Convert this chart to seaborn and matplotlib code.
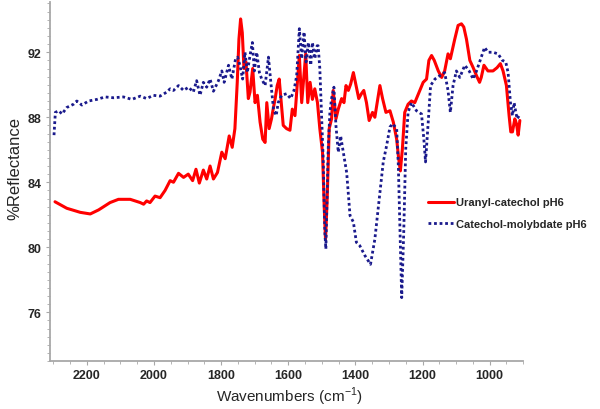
import numpy as np
import pandas as pd
import matplotlib
matplotlib.use("Agg")
import matplotlib.pyplot as plt
from matplotlib.ticker import MultipleLocator
import seaborn as sns

### spectra ###
red_wn = [2295, 2260, 2220, 2190, 2165, 2131, 2106, 2071, 2041, 2031, 2022, 2012, 1997, 1982,
          1967, 1952, 1942, 1927, 1912, 1898, 1885, 1875, 1865, 1853, 1843, 1833, 1823, 1811,
          1798, 1788, 1776, 1767, 1759, 1752, 1747, 1742, 1737, 1732, 1726, 1719, 1714, 1706,
          1699, 1692, 1684, 1676, 1669, 1664, 1657, 1650, 1645, 1639, 1633, 1627, 1622, 1615,
          1605, 1595, 1588, 1580, 1567, 1560, 1548, 1542, 1535, 1528, 1521, 1513, 1506, 1498,
          1493, 1489, 1484, 1478, 1471, 1466, 1458, 1451, 1441, 1434, 1428, 1421, 1414, 1406,
          1398, 1390, 1382, 1375, 1367, 1359, 1349, 1342, 1335, 1327, 1319, 1309, 1297, 1287,
          1277, 1271, 1266, 1260, 1253, 1243, 1233, 1223, 1210, 1198, 1188, 1181, 1173, 1165,
          1153, 1143, 1134, 1124, 1117, 1104, 1094, 1084, 1077, 1069, 1059, 1049, 1039, 1030,
          1025, 1017, 1005, 990, 978, 968, 960, 950, 942, 937, 932, 925, 920, 915, 910]
red_pct = [82.8, 82.4, 82.15, 82.05, 82.3, 82.75, 82.95, 82.95, 82.75, 82.65, 82.85, 82.75, 83.15, 83.05,
           83.5, 84.1, 84.0, 84.55, 84.3, 84.5, 84.1, 84.8, 83.95, 84.75, 84.2, 85.0, 84.2, 84.6,
           85.85, 85.45, 86.85, 86.15, 87.3, 90.15, 92.8, 94.05, 93.2, 91.0, 91.4, 89.15, 89.55, 91.0,
           88.9, 89.35, 87.7, 86.65, 86.45, 88.9, 87.3, 87.9, 88.5, 89.15, 89.95, 90.35, 89.15, 87.5,
           87.3, 87.2, 88.5, 88.1, 91.8, 88.9, 91.9, 88.9, 90.15, 89.1, 89.75, 88.9, 87.3, 85.85,
           82.55, 80.5, 83.0, 87.3, 87.9, 89.65, 87.9, 88.5, 89.15, 88.9, 89.95, 89.65, 90.05, 90.75,
           89.95, 89.15, 89.45, 89.65, 88.9, 87.8, 88.3, 88.0, 88.9, 89.95, 89.15, 88.3, 88.4, 87.7,
           86.65, 85.45, 84.7, 86.05, 88.3, 88.8, 89.0, 88.9, 89.55, 90.15, 90.35, 91.5, 91.8, 91.5,
           90.85, 90.45, 90.85, 91.9, 91.6, 92.8, 93.65, 93.75, 93.55, 92.8, 91.5, 91.05, 90.55, 90.15,
           90.45, 91.2, 90.85, 90.85, 91.05, 91.3, 90.85, 89.95, 88.1, 87.1, 87.1, 87.9, 87.6, 86.9, 87.8]

blue_wn = [2298, 2294, 2284, 2274, 2260, 2240, 2230, 2215, 2195, 2170, 2146, 2121, 2091, 2066,
           2041, 2022, 2002, 1982, 1962, 1952, 1942, 1927, 1912, 1897, 1883, 1873, 1863, 1853,
           1843, 1833, 1823, 1808, 1798, 1791, 1778, 1768, 1757, 1751, 1744, 1736, 1729, 1722,
           1714, 1707, 1701, 1694, 1686, 1679, 1669, 1659, 1652, 1644, 1636, 1630, 1620, 1605,
           1593, 1583, 1575, 1567, 1560, 1553, 1547, 1540, 1533, 1528, 1521, 1514, 1511, 1506,
           1501, 1496, 1491, 1488, 1481, 1476, 1471, 1464, 1458, 1451, 1444, 1436, 1426, 1416,
           1406, 1397, 1387, 1372, 1355, 1342, 1329, 1317, 1307, 1297, 1289, 1277, 1272, 1267,
           1262, 1256, 1250, 1243, 1233, 1218, 1203, 1196, 1191, 1183, 1176, 1163, 1149, 1134,
           1124, 1117, 1109, 1099, 1089, 1074, 1061, 1049, 1039, 1025, 1015, 1005, 990, 975,
           962, 952, 945, 938, 932, 927, 922, 918, 912]
blue_pct = [86.9, 88.3, 88.4, 88.2, 88.6, 88.8, 89.0, 88.75, 89.0, 89.1, 89.25, 89.2, 89.25, 89.1,
            89.3, 89.15, 89.35, 89.3, 89.55, 89.75, 89.65, 89.95, 89.65, 89.85, 89.55, 90.25, 89.35, 90.15,
            89.85, 90.35, 89.6, 90.25, 90.85, 90.15, 91.2, 90.35, 91.6, 91.7, 91.2, 90.35, 92.0, 90.75,
            91.8, 92.6, 90.85, 92.0, 90.75, 90.35, 89.95, 91.7, 90.15, 88.5, 88.1, 88.9, 89.35, 89.45,
            89.15, 89.65, 90.55, 93.45, 91.6, 93.25, 91.4, 92.6, 91.2, 92.6, 91.6, 92.4, 92.4, 91.0,
            88.3, 85.45, 80.9, 79.9, 86.05, 88.3, 89.15, 89.85, 87.5, 85.85, 86.85, 85.85, 84.6, 81.95,
            81.55, 80.3, 80.1, 79.5, 78.95, 80.5, 82.95, 85.25, 86.25, 87.4, 87.6, 87.3, 85.0, 80.9,
            76.9, 80.9, 86.05, 88.3, 88.9, 88.4, 88.2, 86.65, 85.25, 87.7, 89.95, 90.35, 90.55, 90.75,
            89.65, 88.3, 89.95, 90.85, 90.45, 91.2, 90.85, 90.35, 90.85, 91.7, 92.3, 92.0, 92.0, 91.9,
            91.5, 91.4, 90.75, 88.9, 88.1, 88.9, 88.3, 87.9, 88.1]

red_df = pd.DataFrame({'wn': red_wn, 'pct': red_pct})
blue_df = pd.DataFrame({'wn': blue_wn, 'pct': blue_pct})

sns.set_style('white')
plt.rcParams['font.family'] = ['Liberation Sans', 'DejaVu Sans']

fig = plt.figure(figsize=(6, 4.1), dpi=100)
ax = fig.add_axes([0.0833, 0.117, 0.7887, 0.876])

sns.lineplot(data=red_df, x='wn', y='pct', ax=ax, color='#ff0000', linewidth=2.2,
             label='Uranyl-catechol pH6', sort=False)
sns.lineplot(data=blue_df, x='wn', y='pct', ax=ax, color='#1a1a8c', linewidth=2.0,
             linestyle=(0, (1, 1)), label='Catechol-molybdate pH6', sort=False)

ax.set_xlim(2310, 900)
ax.set_ylim(73, 95.1)
ax.xaxis.set_major_locator(MultipleLocator(200))
ax.xaxis.set_minor_locator(MultipleLocator(50))
ax.yaxis.set_major_locator(MultipleLocator(4))
ax.yaxis.set_minor_locator(MultipleLocator(0.5))

for s in ['top', 'right']:
    ax.spines[s].set_visible(False)
for s in ['left', 'bottom']:
    ax.spines[s].set_color('#a8a8a8')
    ax.spines[s].set_linewidth(1.3)

ax.tick_params(axis='both', which='both', direction='out', color='#a8a8a8', bottom=True, left=True)
ax.tick_params(axis='both', which='major', length=3, labelsize=9, pad=3)
ax.tick_params(axis='both', which='minor', length=2)
for lab in ax.get_xticklabels() + ax.get_yticklabels():
    lab.set_fontweight('bold')

ax.set_xlabel(r'Wavenumbers (cm$^{\mathregular{-1}}$)', fontsize=11)
ax.set_ylabel('%Reflectance', fontsize=12)
ax.xaxis.set_label_coords(0.507, -0.098, transform=ax.transAxes)
ax.xaxis.label.set_verticalalignment('center')
ax.yaxis.set_label_coords(-0.074, 0.538, transform=ax.transAxes)
ax.yaxis.label.set_verticalalignment('center')

ax.legend(loc='center left', bbox_to_anchor=(0.713, 0.478), bbox_transform=fig.transFigure,
          frameon=False, prop={'weight': 'bold', 'size': 8}, handlelength=2.4,
          handletextpad=0.15, labelspacing=1.0, borderpad=0, borderaxespad=0)

plt.savefig('out.png', dpi=100)
